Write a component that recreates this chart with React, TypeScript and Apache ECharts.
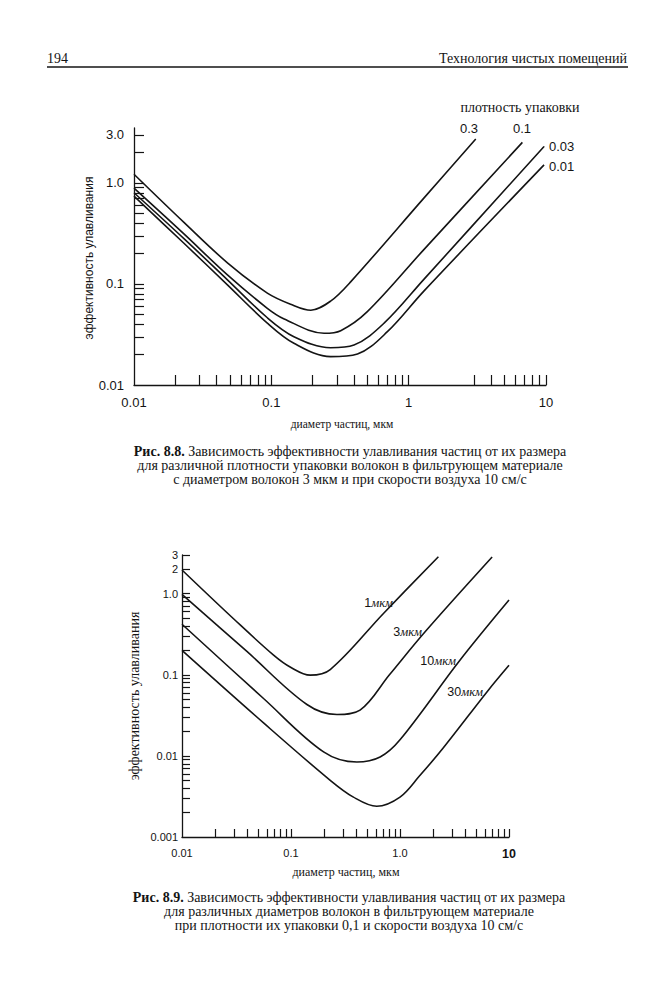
import React, { useEffect, useRef } from "react";
import * as echarts from "echarts";

// ---------- Fig. 8.8: packing density curves ----------
const fig88Names = ["0.3", "0.1", "0.03", "0.01"];
const fig88_p030 = [[0.01, 1.22], [0.0231, 0.407], [0.0479, 0.162], [0.0935, 0.0813], [0.138, 0.0631], [0.194, 0.055], [0.27, 0.0676], [0.378, 0.105], [1.29, 0.708], [3.08, 2.72]];
const fig88_p010 = [[0.01, 0.89], [0.0231, 0.313], [0.0479, 0.123], [0.0935, 0.0575], [0.124, 0.0451], [0.242, 0.0325], [0.32, 0.0345], [0.5, 0.0532], [1.29, 0.219], [6.73, 2.52]];
const fig88_p003 = [[0.01, 0.8], [0.0231, 0.281], [0.0479, 0.11], [0.0935, 0.0463], [0.146, 0.0301], [0.27, 0.0234], [0.4, 0.0249], [0.662, 0.0409], [1.29, 0.111], [9.68, 2.3]];
const fig88_p001 = [[0.01, 0.74], [0.0231, 0.253], [0.0479, 0.098], [0.0935, 0.041], [0.146, 0.0259], [0.27, 0.0191], [0.424, 0.0203], [0.7, 0.0337], [1.29, 0.085], [9.68, 1.51]];

const fig88XTicks = [0.02, 0.03, 0.04, 0.05, 0.06, 0.07, 0.08, 0.09, 0.1, 0.2, 0.3, 0.4, 0.5, 0.6, 0.7, 0.8, 0.9, 1, 3, 4, 5, 6, 7, 8, 9, 10];
const fig88YTicks = [0.02, 0.03, 0.04, 0.05, 0.06, 0.07, 0.08, 0.09, 0.1, 0.2, 0.3, 0.4, 0.5, 0.6, 0.7, 0.8, 0.9, 1, 2, 3];
const fig88XLabelValues = [0.01, 0.1, 1, 10];
const fig88XLabels = ["0.01", "0.1", "1", "10"];
const fig88YLabelValues = [0.01, 0.1, 1, 3];
const fig88YLabels = ["0.01", "0.1", "1.0", "3.0"];

// ---------- Fig. 8.9: fibre diameter curves ----------
const fig89Names = ["1мкм", "3мкм", "10мкм", "30мкм"];
const fig89_d01 = [[0.01, 1.96], [0.0297, 0.491], [0.0692, 0.175], [0.1, 0.123], [0.15, 0.099], [0.229, 0.116], [0.705, 0.571], [2.25, 2.86]];
const fig89_d03 = [[0.01, 0.98], [0.0394, 0.194], [0.14, 0.043], [0.264, 0.0324], [0.43, 0.0366], [0.8, 0.1], [1.7, 0.339], [7.0, 2.83]];
const fig89_d10 = [[0.01, 0.42], [0.056, 0.051], [0.199, 0.0112], [0.402, 0.0084], [0.657, 0.0097], [1.0, 0.0158], [3.56, 0.152], [10, 0.834]];
const fig89_d30 = [[0.01, 0.2], [0.056, 0.0255], [0.229, 0.005], [0.374, 0.0031], [0.612, 0.00239], [1.0, 0.0031], [1.5, 0.0056], [2.5, 0.0126], [6.46, 0.0646], [10, 0.131]];

const fig89XTicks = [0.02, 0.03, 0.04, 0.05, 0.06, 0.07, 0.08, 0.09, 0.1, 0.2, 0.3, 0.4, 0.5, 0.6, 0.7, 0.8, 0.9, 1, 2, 3, 4, 5, 6, 7, 8, 9, 10];
const fig89YTicks = [0.002, 0.003, 0.004, 0.005, 0.006, 0.007, 0.008, 0.009, 0.01, 0.02, 0.03, 0.04, 0.05, 0.06, 0.07, 0.08, 0.09, 0.1, 0.2, 0.3, 0.4, 0.5, 0.6, 0.7, 0.8, 0.9, 1, 2, 3];
const fig89XLabelValues = [0.01, 0.1, 1, 10];
const fig89XLabels = ["0.01", "0.1", "1.0", "{b|10}"];
const fig89YLabelValues = [0.001, 0.01, 0.1, 1, 2, 3];
const fig89YLabels = ["0.001", "0.01", "0.1", "1.0", "2", "3"];

const caption88 = [
  "{b|Рис. 8.8.} Зависимость эффективности улавливания частиц от их размера",
  "для различной плотности упаковки волокон в фильтрующем материале",
  "с диаметром волокон 3 мкм и при скорости воздуха 10 см/с",
];
const caption89 = [
  "{b|Рис. 8.9.} Зависимость эффективности улавливания частиц от их размера",
  "для различных диаметров волокон в фильтрующем материале",
  "при плотности их упаковки 0,1 и скорости воздуха 10 см/с",
];

const SERIF = '"Liberation Serif", "Times New Roman", serif';
const SANS = '"Liberation Sans", Arial, sans-serif';
const INK = "#141414";

function labelFor(values: number[], labels: string[]) {
  return (v: number) => {
    const i = values.findIndex((t) => Math.abs(Math.log10(t) - Math.log10(v)) < 1e-6);
    return i >= 0 ? labels[i] : "";
  };
}

function logAxis(opts: any) {
  return {
    type: "log",
    logBase: 10,
    gridIndex: opts.grid,
    min: opts.min,
    max: opts.max,
    axisLine: { show: true, onZero: false, lineStyle: { color: INK, width: 1.3 } },
    axisTick: {
      show: true,
      inside: true,
      length: opts.tickLen,
      customValues: opts.ticks,
      lineStyle: { color: INK, width: 1.2 },
    },
    minorTick: { show: false },
    splitLine: { show: false },
    axisLabel: {
      show: true,
      customValues: opts.labelValues,
      formatter: labelFor(opts.labelValues, opts.labels),
      color: INK,
      fontFamily: SANS,
      fontSize: opts.fontSize,
      margin: opts.margin,
      rich: { b: { fontWeight: "bold", fontSize: opts.fontSize + 1.5, fontFamily: SANS, color: INK } },
    },
  };
}

function curve(name: string, data: number[][], idx: number) {
  return {
    type: "line",
    name,
    xAxisIndex: idx,
    yAxisIndex: idx,
    data,
    smooth: 0.35,
    showSymbol: false,
    symbol: "none",
    silent: true,
    lineStyle: { color: INK, width: 1.6 },
  };
}

function txt(x: number, y: number, text: string, style: any, extra: any = {}) {
  return {
    type: "text",
    x,
    y,
    silent: true,
    ...extra,
    style: { text, fill: INK, ...style },
  };
}

function caption(lines: string[], cx: number, top: number, step: number) {
  const bold = { b: { fontFamily: SERIF, fontSize: 14, fontWeight: "bold", fill: INK } };
  return lines.map((line, i) =>
    txt(cx, top + i * step, line, {
      fontFamily: SERIF,
      fontSize: 14,
      align: "center",
      verticalAlign: "middle",
      rich: bold,
    })
  );
}

export default function App() {
  const ref = useRef<HTMLDivElement>(null);
  useEffect(() => {
    if (!ref.current) return;
    const chart = echarts.init(ref.current, undefined, { renderer: "svg" });
    const unitRich = {
      n: { fontFamily: SANS, fontSize: 12.5, color: INK },
      u: { fontFamily: SERIF, fontStyle: "italic", fontSize: 12.5, color: INK },
    };
    const option: any = {
      animation: false,
      backgroundColor: "#ffffff",
      grid: [
        { left: 134, top: 128, width: 412, height: 257, outerBoundsMode: "none", containLabel: false },
        { left: 182, top: 555, width: 327, height: 282, outerBoundsMode: "none", containLabel: false },
      ],
      xAxis: [
        logAxis({ grid: 0, min: 0.01, max: 10, tickLen: 10, ticks: fig88XTicks, labelValues: fig88XLabelValues, labels: fig88XLabels, fontSize: 13, margin: 11 }),
        logAxis({ grid: 1, min: 0.01, max: 10, tickLen: 8, ticks: fig89XTicks, labelValues: fig89XLabelValues, labels: fig89XLabels, fontSize: 11, margin: 10 }),
      ],
      yAxis: [
        logAxis({ grid: 0, min: 0.01, max: 3.5, tickLen: 10, ticks: fig88YTicks, labelValues: fig88YLabelValues, labels: fig88YLabels, fontSize: 13, margin: 10 }),
        logAxis({ grid: 1, min: 0.001, max: 3, tickLen: 8, ticks: fig89YTicks, labelValues: fig89YLabelValues, labels: fig89YLabels, fontSize: 11, margin: 4 }),
      ],
      series: [
        curve(fig88Names[0], fig88_p030, 0),
        curve(fig88Names[1], fig88_p010, 0),
        curve(fig88Names[2], fig88_p003, 0),
        curve(fig88Names[3], fig88_p001, 0),
        curve(fig89Names[0], fig89_d01, 1),
        curve(fig89Names[1], fig89_d03, 1),
        curve(fig89Names[2], fig89_d10, 1),
        curve(fig89Names[3], fig89_d30, 1),
      ],
      graphic: [
        // running header
        txt(47, 58, "194", { fontFamily: SERIF, fontSize: 14, align: "left", verticalAlign: "middle" }),
        txt(627, 58, "Технология чистых помещений", { fontFamily: SERIF, fontSize: 14, align: "right", verticalAlign: "middle" }),
        { type: "line", silent: true, shape: { x1: 47, y1: 67, x2: 628, y2: 67 }, style: { stroke: INK, lineWidth: 1.4 } },

        // Fig 8.8 annotations
        txt(520, 107, "плотность упаковки", { fontFamily: SERIF, fontSize: 14, align: "center", verticalAlign: "middle" }),
        txt(469, 128, fig88Names[0], { fontFamily: SANS, fontSize: 13, align: "center", verticalAlign: "middle" }),
        txt(522, 128, fig88Names[1], { fontFamily: SANS, fontSize: 13, align: "center", verticalAlign: "middle" }),
        txt(549, 146, fig88Names[2], { fontFamily: SANS, fontSize: 13, align: "left", verticalAlign: "middle" }),
        txt(549, 166, fig88Names[3], { fontFamily: SANS, fontSize: 13, align: "left", verticalAlign: "middle" }),
        txt(89, 258, "эффективность улавливания", { fontFamily: SANS, fontSize: 12, align: "center", verticalAlign: "middle" }, { rotation: Math.PI / 2 }),
        txt(342, 424, "диаметр частиц, мкм", { fontFamily: SERIF, fontSize: 11.5, align: "center", verticalAlign: "middle" }),
        ...caption(caption88, 350, 451, 14),

        // Fig 8.9 annotations
        txt(393, 603, "{n|1}{u|мкм}", { align: "right", verticalAlign: "middle", rich: unitRich }),
        txt(422, 632, "{n|3}{u|мкм}", { align: "right", verticalAlign: "middle", rich: unitRich }),
        txt(456, 661, "{n|10}{u|мкм}", { align: "right", verticalAlign: "middle", rich: unitRich }),
        txt(483, 692, "{n|30}{u|мкм}", { align: "right", verticalAlign: "middle", rich: unitRich }),
        txt(134, 696, "эффективность улавливания", { fontFamily: SERIF, fontSize: 14, align: "center", verticalAlign: "middle" }, { rotation: Math.PI / 2 }),
        txt(346, 872, "диаметр частиц, мкм", { fontFamily: SERIF, fontSize: 12, align: "center", verticalAlign: "middle" }),
        ...caption(caption89, 349, 897, 14),
      ],
    };
    chart.setOption(option);
    return () => chart.dispose();
  }, []);
  return (
    <div
      ref={ref}
      style={{ position: "absolute", left: 0, top: 0, width: 665, height: 982, background: "#fff" }}
    />
  );
}
